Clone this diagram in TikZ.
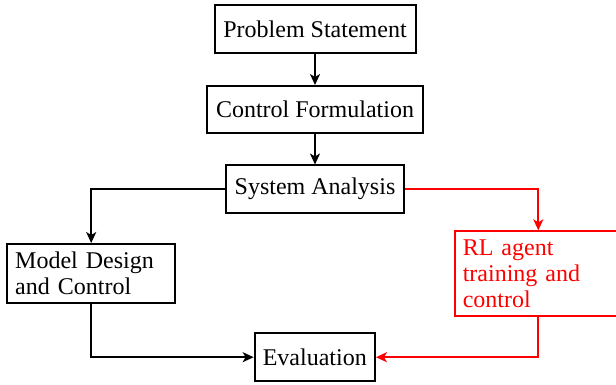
\documentclass[tikz,border=0pt]{standalone}
\usepackage{fontspec}
\setmainfont{Liberation Serif}
\usetikzlibrary{arrows.meta}
\begin{document}
\begin{tikzpicture}[x=1pt,y=-1pt,
  box/.style={draw, line width=2pt, inner sep=0pt, font=\fontsize{24}{26}\selectfont},
  lbox/.style={box, align=left, text width=#1},
  conn/.style={line width=2pt, -{Stealth[length=11pt,width=10pt,inset=3pt]}},
  redc/.style={conn, red}]
\useasboundingbox (0,0) rectangle (616,385);
\node[box, minimum width=201pt, minimum height=48pt] (ps) at (315,29.2) {Problem Statement};
\node[box, minimum width=215.4pt, minimum height=47.3pt] (cf) at (315,109.7) {Control Formulation};
\node[box, minimum width=178pt, minimum height=47pt] (sa) at (315,189) {System Analysis};
\node[box, lbox=152pt, minimum width=167.7pt, minimum height=59.3pt] (md) at (91.2,273.7) {Model Design\\and Control};
\node[box, lbox=151pt, red, minimum width=167.2pt, minimum height=84.7pt] (rl) at (538.3,273.7) {RL agent\\training and\\control};
\node[box, minimum width=120.3pt, minimum height=47.7pt] (ev) at (314.8,357.2) {Evaluation};
\draw[conn] (ps) -- (cf);
\draw[conn] (cf) -- (sa);
\draw[conn] (sa.west) -| (md.north);
\draw[redc] (sa.east) -| (rl.north);
\draw[conn] (md.south) |- (ev.west);
\draw[redc] (rl.south) |- (ev.east);
\end{tikzpicture}
\end{document}
